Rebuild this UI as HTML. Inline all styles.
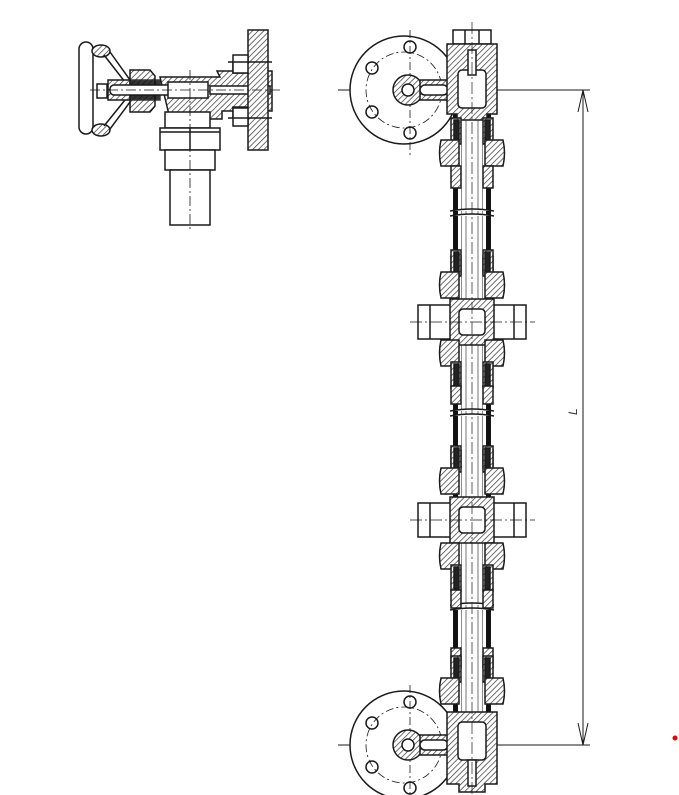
<!DOCTYPE html>
<html><head><meta charset="utf-8"><style>html,body{margin:0;padding:0;background:#fff}svg{display:block}</style></head>
<body>
<svg width="679" height="795" viewBox="0 0 679 795" xmlns="http://www.w3.org/2000/svg" fill="none" stroke="#1a1a1a" stroke-width="1.5">
<defs>
<pattern id="h" width="4" height="4" patternUnits="userSpaceOnUse" patternTransform="rotate(45)"><rect width="4" height="4" fill="#fff" stroke="none"/><line x1="0" y1="0" x2="0" y2="4" stroke="#333" stroke-width="1.4"/></pattern>
<g id="nutTop">
 <rect x="451" y="0" width="10" height="26" fill="url(#h)"/><rect x="483" y="0" width="10" height="26" fill="url(#h)"/>
 <rect x="454" y="2" width="5" height="22" fill="#222"/><rect x="485" y="2" width="5" height="22" fill="#222"/>
 <path d="M441 22 h18 v26 h-18 q-3 -13 0 -26z" fill="url(#h)"/>
 <path d="M503 22 h-18 v26 h18 q3 -13 0 -26z" fill="url(#h)"/>
</g>
<g id="cross">
 <rect x="418" y="0" width="34" height="34" fill="#fff"/><line x1="430" y1="0" x2="430" y2="34"/>
 <rect x="492" y="0" width="34" height="34" fill="#fff"/><line x1="514" y1="0" x2="514" y2="34"/>
 <path d="M450 -6 h44 v46 h-44z" fill="url(#h)"/>
 <rect x="459" y="4" width="26" height="26" rx="4" fill="#fff"/>
</g>
<g id="nutBot">
 <path d="M441 0 h18 v26 h-18 q-3 -13 0 -26z" fill="url(#h)"/>
 <path d="M503 0 h-18 v26 h18 q3 -13 0 -26z" fill="url(#h)"/>
 <rect x="451" y="22" width="10" height="26" fill="url(#h)"/><rect x="483" y="22" width="10" height="26" fill="url(#h)"/>
 <rect x="454" y="24" width="5" height="22" fill="#222"/><rect x="485" y="24" width="5" height="22" fill="#222"/>
</g>
</defs>

<g>
 <rect x="79" y="42" width="14" height="92" rx="7" fill="#fff"/>
 <ellipse cx="101" cy="51" rx="9" ry="6" fill="url(#h)"/><ellipse cx="101" cy="130" rx="9" ry="6" fill="url(#h)"/>
 <path d="M104 55 L125 82 M110 52 L130 80 M104 126 L125 100 M110 129 L130 102" />
 <rect x="97" y="84" width="10" height="14" fill="#fff"/>
 <path d="M108 80 h30 v20 h-30z" fill="url(#h)"/>
 <path d="M130 70 h20 l5 6 v30 l-5 6 h-20 z" fill="url(#h)"/>
 <rect x="130" y="80" width="30" height="20" fill="#111" opacity="0.85"/>
 <path d="M160 77 h60 l-3 -6 h55 v40 h-50 v8 h-52 z" fill="url(#h)"/>
 <rect x="110" y="85" width="80" height="10" rx="4" fill="#fff"/>
 <rect x="168" y="82" width="40" height="16" fill="#fff"/>
 <rect x="210" y="86" width="60" height="8" fill="#fff"/>
 <path d="M248 30 h20 v120 h-20 v-33 h-15 v-10 h15 v-34 h-15 v-10 h15z" fill="url(#h)"/>
 <rect x="233" y="55" width="15" height="18" fill="#fff"/><rect x="233" y="108" width="15" height="18" fill="#fff"/>
 <line x1="228" y1="62" x2="272" y2="62"/><line x1="228" y1="118" x2="272" y2="118"/>
 <path d="M165 112 h45 v16 h-45z" fill="#fff"/>
 <path d="M160 128 h60 v22 h-60z" fill="#fff"/><line x1="190" y1="128" x2="190" y2="150"/><line x1="160" y1="132" x2="220" y2="132"/>
 <rect x="165" y="150" width="50" height="20" fill="#fff"/>
 <rect x="170" y="170" width="40" height="55" fill="#fff"/>
 <line x1="190" y1="70" x2="190" y2="232" stroke-dasharray="10 3 2 3" stroke-width="0.8"/>
 <line x1="90" y1="90" x2="280" y2="90" stroke-dasharray="10 3 2 3" stroke-width="0.8"/>
</g>

<line x1="338" y1="90" x2="590" y2="90" stroke-width="1"/>
<line x1="338" y1="745" x2="590" y2="745" stroke-width="1"/>
<line x1="583" y1="90" x2="583" y2="745" stroke-width="1"/>
<path d="M578 112 L583 90 L588 112 M578 723 L583 745 L588 723" stroke-width="1"/>
<text x="577" y="415" font-family="Liberation Sans, sans-serif" font-size="12" font-style="italic" fill="#333" stroke="none" transform="rotate(-90 577 415)">L</text>

<g id="fl">
 <circle cx="404" cy="90" r="54" fill="#fff"/>
 <circle cx="404" cy="90" r="38" stroke-dasharray="8 3 2 3" stroke-width="0.8"/>
 <circle cx="410" cy="47" r="6"/><circle cx="410" cy="133" r="6"/><circle cx="372" cy="68" r="6"/><circle cx="372" cy="112" r="6"/>
 <line x1="410" y1="30" x2="410" y2="155" stroke-dasharray="8 3 2 3" stroke-width="0.8"/>
 <circle cx="408" cy="90" r="15" fill="url(#h)"/><circle cx="408" cy="90" r="6" fill="#fff"/>
 <path d="M420 80 h28 v20 h-28z" fill="url(#h)"/><rect x="420" y="85" width="28" height="10" rx="5" fill="#fff"/>
</g>
<use href="#fl" transform="translate(0,655)"/>

<g stroke-width="1">
 <rect x="453.5" y="110" width="4.5" height="615" fill="#111"/>
 <rect x="486" y="110" width="4.5" height="615" fill="#111"/>
 <line x1="461" y1="110" x2="461" y2="720"/><line x1="483" y1="110" x2="483" y2="720"/>
 <line x1="466" y1="110" x2="466" y2="720" stroke-width="0.6"/><line x1="478" y1="110" x2="478" y2="720" stroke-width="0.6"/>
</g>
<rect x="458" y="112" width="3" height="610" fill="#fff" stroke="none"/>
<rect x="483" y="112" width="3" height="610" fill="#fff" stroke="none"/>

<path d="M450 211 q22 -4 44 0 M450 216 q22 -4 44 0" fill="#fff"/>
<path d="M450 411 q22 -4 44 0 M450 416 q22 -4 44 0" fill="#fff"/>
<path d="M450 605 q22 -4 44 0 M450 610 q22 -4 44 0" fill="#fff"/>

<rect x="453" y="30" width="38" height="14" fill="#fff"/><line x1="465" y1="30" x2="465" y2="44"/><line x1="479" y1="30" x2="479" y2="44"/>
<path d="M447 44 h50 v70 h-10 v6 h-30 v-6 h-10z" fill="url(#h)"/>
<rect x="458" y="70" width="28" height="38" rx="4" fill="#fff"/>
<rect x="468" y="50" width="8" height="25" fill="#fff"/>
<use href="#nutTop" transform="translate(0,118)"/>
<rect x="451" y="166" width="10" height="22" fill="url(#h)"/><rect x="483" y="166" width="10" height="22" fill="url(#h)"/>

<rect x="451" y="256" width="10" height="18" fill="url(#h)"/><rect x="483" y="256" width="10" height="18" fill="url(#h)"/>
<use href="#nutTop" transform="translate(0,250)"/>
<use href="#cross" transform="translate(0,305)"/>
<use href="#nutBot" transform="translate(0,340)"/>
<rect x="451" y="386" width="10" height="18" fill="url(#h)"/><rect x="483" y="386" width="10" height="18" fill="url(#h)"/>

<rect x="451" y="450" width="10" height="18" fill="url(#h)"/><rect x="483" y="450" width="10" height="18" fill="url(#h)"/>
<use href="#nutTop" transform="translate(0,446)"/>
<use href="#cross" transform="translate(0,503)"/>
<use href="#nutBot" transform="translate(0,543)"/>
<rect x="451" y="590" width="10" height="18" fill="url(#h)"/><rect x="483" y="590" width="10" height="18" fill="url(#h)"/>

<rect x="451" y="648" width="10" height="20" fill="url(#h)"/><rect x="483" y="648" width="10" height="20" fill="url(#h)"/>
<use href="#nutTop" transform="translate(0,656)"/>
<path d="M447 712 h50 v72 h-12 v8 h-26 v-8 h-12z" fill="url(#h)"/>
<rect x="458" y="722" width="28" height="38" rx="4" fill="#fff"/>
<rect x="468" y="760" width="8" height="26" fill="#fff"/>

<line x1="472" y1="22" x2="472" y2="795" stroke-dasharray="12 3 2 3" stroke-width="0.7"/>
<line x1="410" y1="322" x2="535" y2="322" stroke-dasharray="12 3 2 3" stroke-width="0.7"/>
<line x1="410" y1="520" x2="535" y2="520" stroke-dasharray="12 3 2 3" stroke-width="0.7"/>

<circle cx="675" cy="738" r="2.5" fill="#e00" stroke="none"/>
</svg>
</body></html>
